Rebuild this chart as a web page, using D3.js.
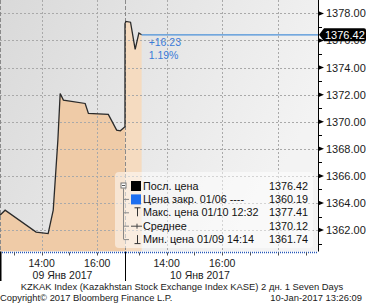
<!DOCTYPE html>
<html>
<head>
<meta charset="utf-8">
<script src="https://cdn.jsdelivr.net/npm/d3@7"></script>
<style>
  body { margin: 0; background: #fff; }
  svg { display: block; font-family: "Liberation Sans", Arial, sans-serif; }
</style>
</head>
<body>
<div id="canvas"></div>
<script>
const dayLabels = ["09 Янв 2017", "10 Янв 2017"];
const sessionOpen = ["12:30", "12:30"];
const sessionClose = ["17:00", "19:27"];
const dayLabelAt = ["14:45", "15:12"];

const day1Times = ["12:30", "12:41", "13:48", "14:14", "14:25", "14:35", "14:40", "14:47",
  "15:34", "15:41", "16:24", "16:42", "16:50", "17:00"];
const day1Prices = [1363.10, 1363.47, 1361.85, 1361.74, 1363.47, 1368.64, 1372.09, 1371.60,
  1371.35, 1370.61, 1370.54, 1369.38, 1369.33, 1369.64];
const day2Times = ["12:30", "12:32", "12:42", "12:52", "13:00", "13:06"];
const day2Prices = [1377.25, 1377.41, 1377.35, 1375.34, 1376.55, 1376.42];

const prevClose = 1360.19;
const yTicks = [1362, 1364, 1366, 1368, 1370, 1372, 1374, 1376, 1378];
const yMinorTicks = [1361, 1363, 1365, 1367, 1369, 1371, 1373, 1375, 1377];
const xTicks = [[0, "14:00"], [0, "16:00"], [1, "14:00"], [1, "16:00"]];
const xGridOnly = [[1, "18:00"]];

const legendNames = ["Посл. цена", "Цена закр. 01/06 ----", "Макс. цена 01/10 12:32", "Среднее", "Мин. цена 01/09 14:14"];
const legendValues = ["1376.42", "1360.19", "1377.41", "1370.12", "1361.74"];

const width = 366;
const height = 307;
const pw = 318;
const ph = 251.5;

const hrs = (t) => {
  const [h, m] = t.split(":").map(Number);
  return h + m / 60;
};
const sessLen = sessionOpen.map((o, i) => hrs(sessionClose[i]) - hrs(o));
const offset = [0, sessLen[0]];
const pos = (day, t) => offset[day] + hrs(t) - hrs(sessionOpen[day]);

const x = d3.scaleLinear().domain([0, d3.sum(sessLen)]).range([0, pw]);
const y = d3.scaleLinear().domain([1360.42, 1378.99]).range([ph, 0]);

const day1 = day1Times.map((t, i) => ({ x: pos(0, t), v: day1Prices[i] }));
const day2 = day2Times.map((t, i) => ({ x: pos(1, t), v: day2Prices[i] }));
const all = day1.concat(day2);
const last = day2[day2.length - 1];

const svg = d3.select("#canvas").append("svg").attr("width", width).attr("height", height);

const defs = svg.append("defs");
const grad = defs.append("linearGradient").attr("id", "bg")
  .attr("x1", 0).attr("y1", 0).attr("x2", 1).attr("y2", 0.4);
grad.append("stop").attr("offset", "0%").attr("stop-color", "#d9d9d9");
grad.append("stop").attr("offset", "100%").attr("stop-color", "#f3f3f3");

svg.append("rect").attr("x", 0).attr("y", 0).attr("width", pw).attr("height", ph).attr("fill", "url(#bg)");

// areas
const area = d3.area().x((d) => x(d.x)).y0(ph).y1((d) => y(d.v));
svg.append("path").datum(day1).attr("d", area).attr("fill", "#efcba7");
svg.append("path").datum(day2).attr("d", area).attr("fill", "#f5dbc0");

// grid
const g = svg.append("g");
g.selectAll(".hgrid").data(yTicks).enter().append("line")
  .attr("x1", 0).attr("x2", pw)
  .attr("y1", (d) => Math.round(y(d)) + 0.5).attr("y2", (d) => Math.round(y(d)) + 0.5)
  .attr("stroke", "#a9a9a9").attr("stroke-dasharray", "2,2");
g.selectAll(".vgrid").data(xTicks.concat(xGridOnly)).enter().append("line")
  .attr("x1", (d) => Math.round(x(pos(d[0], d[1]))) + 0.5)
  .attr("x2", (d) => Math.round(x(pos(d[0], d[1]))) + 0.5)
  .attr("y1", 0).attr("y2", ph)
  .attr("stroke", "#a9a9a9").attr("stroke-dasharray", "2,2");
g.selectAll(".sep").data([0, offset[1]]).enter().append("line")
  .attr("x1", (d) => Math.round(x(d)) + 0.5).attr("x2", (d) => Math.round(x(d)) + 0.5)
  .attr("y1", 0).attr("y2", ph)
  .attr("stroke", "#8a8a8a").attr("stroke-dasharray", "4,2");

// price line
const line = d3.line().x((d) => x(d.x)).y((d) => y(d.v));
svg.append("path").datum(all).attr("d", line)
  .attr("fill", "none").attr("stroke", "#2a2a2a").attr("stroke-width", 1.3);

svg.append("line")
  .attr("x1", x(last.x)).attr("x2", pw)
  .attr("y1", y(last.v)).attr("y2", y(last.v))
  .attr("stroke", "#4a90d9").attr("stroke-width", 1.2);

const chg = last.v - prevClose;
svg.append("text").attr("x", x(last.x) + 7).attr("y", 46)
  .attr("font-size", 10.5).attr("fill", "#3b7bd8")
  .text((chg >= 0 ? "+" : "") + chg.toFixed(2));
svg.append("text").attr("x", x(last.x) + 7).attr("y", 59)
  .attr("font-size", 10.5).attr("fill", "#3b7bd8")
  .text((chg / prevClose * 100).toFixed(2) + "%");

// y axis
svg.append("line").attr("x1", pw + 0.5).attr("x2", pw + 0.5).attr("y1", 0).attr("y2", ph + 1)
  .attr("stroke", "#000");
svg.selectAll(".minor").data(yMinorTicks).enter().append("line")
  .attr("x1", pw).attr("x2", pw + 4)
  .attr("y1", (d) => Math.round(y(d)) + 0.5).attr("y2", (d) => Math.round(y(d)) + 0.5)
  .attr("stroke", "#000");
svg.selectAll(".major").data(yTicks).enter().append("path")
  .attr("d", (d) => `M${pw},${y(d) - 2.5}L${pw + 6},${y(d)}L${pw},${y(d) + 2.5}Z`)
  .attr("fill", "#000");
svg.selectAll(".ylab").data(yTicks).enter().append("text")
  .attr("x", 326).attr("y", (d) => y(d) + 4)
  .attr("font-size", 11).attr("fill", "#1a1a1a")
  .text((d) => d.toFixed(2));

// last price tag
const ly = y(last.v);
svg.append("path")
  .attr("d", `M${pw + 1},${ly}L${pw + 6},${ly - 6.5}H${width - 2}Q${width},${ly - 6.5} ${width},${ly - 4.5}V${ly + 4.5}Q${width},${ly + 6.5} ${width - 2},${ly + 6.5}H${pw + 6}Z`)
  .attr("fill", "#000");
svg.append("text").attr("x", 325).attr("y", ly + 4)
  .attr("font-size", 11).attr("fill", "#fff").text(last.v.toFixed(2));

// x axis
svg.append("rect").attr("x", 0).attr("y", ph).attr("width", pw + 1).attr("height", height - ph).attr("fill", "#fff");
svg.append("line").attr("x1", 0).attr("x2", pw).attr("y1", ph + 1).attr("y2", ph + 1)
  .attr("stroke", "#2456b8").attr("stroke-width", 1.6).attr("stroke-dasharray", "1,1");
const hourTicks = [];
[0, 1].forEach((d) => {
  for (let h = 13; h <= (d === 0 ? 16 : 19); h++) hourTicks.push(pos(d, h + ":00"));
});
svg.selectAll(".xtick").data(hourTicks).enter().append("line")
  .attr("x1", (d) => Math.round(x(d)) + 0.5).attr("x2", (d) => Math.round(x(d)) + 0.5)
  .attr("y1", ph + 1).attr("y2", ph + 4).attr("stroke", "#555");
svg.selectAll(".xsep").data([0, offset[1]]).enter().append("line")
  .attr("x1", (d) => Math.round(x(d)) + 0.5).attr("x2", (d) => Math.round(x(d)) + 0.5)
  .attr("y1", ph).attr("y2", 281)
  .attr("stroke", "#000").attr("stroke-width", (d) => (d === 0 ? 2 : 1));
svg.selectAll(".xlab").data(xTicks).enter().append("text")
  .attr("x", (d) => x(pos(d[0], d[1]))).attr("y", 267)
  .attr("text-anchor", "middle").attr("font-size", 10.5).attr("fill", "#1a1a1a")
  .text((d) => d[1]);
svg.selectAll(".dlab").data(dayLabels).enter().append("text")
  .attr("x", (d, i) => x(pos(i, dayLabelAt[i]))).attr("y", 279)
  .attr("text-anchor", "middle").attr("font-size", 10.5).attr("fill", "#1a1a1a")
  .text((d) => d);

// legend
const lg = svg.append("g");
lg.append("rect").attr("x", 115).attr("y", 172).attr("width", 198).attr("height", 76).attr("rx", 4)
  .attr("fill", "#fff").attr("fill-opacity", 0.5);
const rowY = (i) => 185.5 + i * 13.4;
lg.append("line").attr("x1", 123.5).attr("x2", 123.5).attr("y1", rowY(0) + 3).attr("y2", rowY(4))
  .attr("stroke", "#888");
lg.selectAll(".stub").data([1, 2, 3, 4]).enter().append("line")
  .attr("x1", 123.5).attr("x2", 129).attr("y1", (d) => rowY(d) + 0.5).attr("y2", (d) => rowY(d) + 0.5)
  .attr("stroke", "#888");
lg.append("rect").attr("x", 121).attr("y", rowY(0) - 2.5).attr("width", 5).attr("height", 5)
  .attr("fill", "#fff").attr("stroke", "#777");
lg.append("line").attr("x1", 122).attr("x2", 125).attr("y1", rowY(0)).attr("y2", rowY(0)).attr("stroke", "#555");
lg.append("rect").attr("x", 131).attr("y", rowY(0) - 4.5).attr("width", 10).attr("height", 10).attr("fill", "#000");
lg.append("rect").attr("x", 131).attr("y", rowY(1) - 4.5).attr("width", 10).attr("height", 10).attr("fill", "#1e6ff0");
lg.append("path").attr("d", `M134.5,${rowY(2) - 4.5}H140.5M137.5,${rowY(2) - 4.5}V${rowY(2) + 4}`)
  .attr("stroke", "#333").attr("fill", "none");
lg.append("path").attr("d", `M131,${rowY(3) + 0.5}H142M137,${rowY(3) - 2}V${rowY(3) + 3}`)
  .attr("stroke", "#444").attr("fill", "none");
lg.append("path").attr("d", `M134.5,${rowY(4) + 4.5}H140.5M137.5,${rowY(4) - 4}V${rowY(4) + 4.5}`)
  .attr("stroke", "#333").attr("fill", "none");
lg.selectAll(".lname").data(legendNames).enter().append("text")
  .attr("x", 143).attr("y", (d, i) => rowY(i) + 4)
  .attr("font-size", 10.8).attr("fill", "#111").text((d) => d);
lg.selectAll(".lval").data(legendValues).enter().append("text")
  .attr("x", 308).attr("y", (d, i) => rowY(i) + 4).attr("text-anchor", "end")
  .attr("font-size", 10.8).attr("fill", "#111").text((d) => d);

// footer
svg.append("text").attr("x", 182).attr("y", 289.5).attr("text-anchor", "middle")
  .attr("font-size", 9.4).attr("fill", "#1a1a1a")
  .text("KZKAK Index (Kazakhstan Stock Exchange Index KASE) 2 дн. 1 Seven Days");
svg.append("text").attr("x", 0).attr("y", 300.5)
  .attr("font-size", 9.4).attr("fill", "#1a1a1a").text("Copyright© 2017 Bloomberg Finance L.P.");
svg.append("text").attr("x", 362).attr("y", 300.5).attr("text-anchor", "end")
  .attr("font-size", 9.4).attr("fill", "#1a1a1a").text("10-Jan-2017 13:26:09");
</script>
</body>
</html>
